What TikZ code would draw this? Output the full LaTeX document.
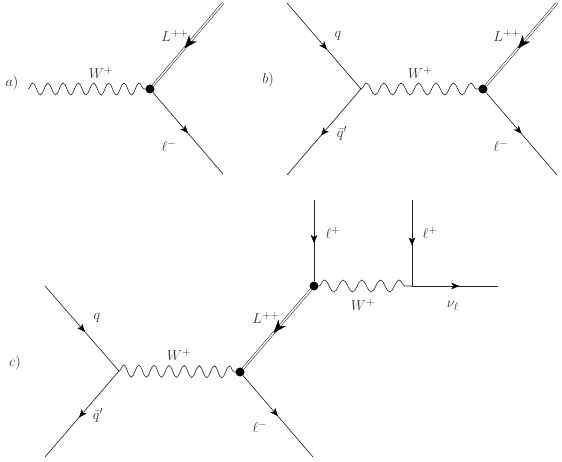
\documentclass[tikz,border=0pt]{standalone}
\usetikzlibrary{arrows.meta,decorations.markings,decorations.pathmorphing}
\tikzset{
  fermion/.style={draw=black!85,line width=0.65pt},
  scalar/.style={draw=black!85,line width=0.55pt,double=white,double distance=1.4pt},
  boson/.style={draw=black!85,line width=0.6pt,decorate,decoration={snake,amplitude=6pt,segment length=#1,pre length=0pt,post length=0pt}},
  tipmark/.style={decoration={markings,mark=at position #1 with {\arrow{Stealth[length=8pt,width=6.5pt,inset=2pt]}}},decorate},
  bigtip/.style={decoration={markings,mark=at position #1 with {\arrow{Stealth[length=13pt,width=10pt,inset=4pt]}}},decorate},
  vertexdot/.style={circle,fill=black,inner sep=0pt,minimum size=9pt},
  lbl/.style={inner sep=0pt,text=black!80,font=\fontsize{15.5}{18}\selectfont}
}
\begin{document}
\begin{tikzpicture}[x=1pt,y=-1pt]
\useasboundingbox (0,0) rectangle (562,462);
% a
\coordinate (a0) at (28,89);
\node[vertexdot] (av) at (150,89) {};
\coordinate (aL) at (223,3);
\coordinate (al) at (223,174);
\draw[boson=15.2pt] (a0) -- (av.center);
\draw[scalar] (aL) -- (av);
\path[bigtip=0.55] (aL) -- (av);
\draw[fermion] (av) -- (al);
\path[tipmark=0.5] (av) -- (al);
\node[lbl] (alabel) at (12,83) {$a)$};
\node[lbl] (aW) at (101,73) {$W^+$};
\node[lbl] (aLl) at (175,36) {$L^{++}$};
\node[lbl] (all) at (169,146) {$\ell^-$};
% b
\coordinate (bq) at (287,3);
\coordinate (bqb) at (287,175);
\coordinate (bw) at (361,89);
\node[vertexdot] (bv) at (483,89) {};
\coordinate (bL) at (557,3);
\coordinate (bl) at (557,175);
\draw[fermion] (bq) -- (bw);
\path[tipmark=0.54] (bq) -- (bw);
\draw[fermion] (bw) -- (bqb);
\path[tipmark=0.54] (bw) -- (bqb);
\draw[boson=17.4pt] (bw) -- (bv.center);
\draw[scalar] (bL) -- (bv);
\path[bigtip=0.55] (bL) -- (bv);
\draw[fermion] (bv) -- (bl);
\path[tipmark=0.5] (bv) -- (bl);
\node[lbl] (blabel) at (268,80) {$b)$};
\node[lbl] (bql) at (338,36) {$q$};
\node[lbl] (bqbl) at (342,133) {$\bar q'$};
\node[lbl] (bW) at (420,73) {$W^+$};
\node[lbl] (bLl) at (507,36) {$L^{++}$};
\node[lbl] (bll) at (501,146) {$\ell^-$};
% c
\coordinate (cq) at (45,286);
\coordinate (cqb) at (45,457);
\coordinate (cw) at (119,371);
\node[vertexdot] (cv) at (240,372) {};
\node[vertexdot] (cu) at (314,286) {};
\coordinate (cl) at (313,457);
\coordinate (ct1) at (314,200);
\coordinate (ct2) at (412,200);
\coordinate (cx) at (412,286);
\coordinate (cn) at (498,286);
\draw[fermion] (cq) -- (cw);
\path[tipmark=0.54] (cq) -- (cw);
\draw[fermion] (cw) -- (cqb);
\path[tipmark=0.54] (cw) -- (cqb);
\draw[boson=15.1pt] (cw) -- (cv.center);
\draw[scalar] (cu) -- (cv);
\path[bigtip=0.55] (cu) -- (cv);
\draw[fermion] (cv) -- (cl);
\path[tipmark=0.5] (cv) -- (cl);
\draw[fermion] (ct1) -- (cu);
\path[tipmark=0.53] (ct1) -- (cu);
\draw[fermion] (ct2) -- (cx);
\path[tipmark=0.53] (ct2) -- (cx);
\draw[boson=18.65pt] (cu.east) -- (cx);
\draw[fermion] (cx) -- (cn);
\path[tipmark=0.55] (cx) -- (cn);
\node[lbl] (clabel) at (15,363) {$c)$};
\node[lbl] (cql) at (97,318) {$q$};
\node[lbl] (cqbl) at (98,415) {$\bar q'$};
\node[lbl] (cW) at (179,355) {$W^+$};
\node[lbl] (cLl) at (266,318) {$L^{++}$};
\node[lbl] (cll) at (260,427) {$\ell^-$};
\node[lbl] (cp1) at (333,233) {$\ell^+$};
\node[lbl] (cp2) at (430,233) {$\ell^+$};
\node[lbl] (cW2) at (363,305) {$W^+$};
\node[lbl] (cnu) at (453,306) {$\nu_\ell$};
\end{tikzpicture}
\end{document}
